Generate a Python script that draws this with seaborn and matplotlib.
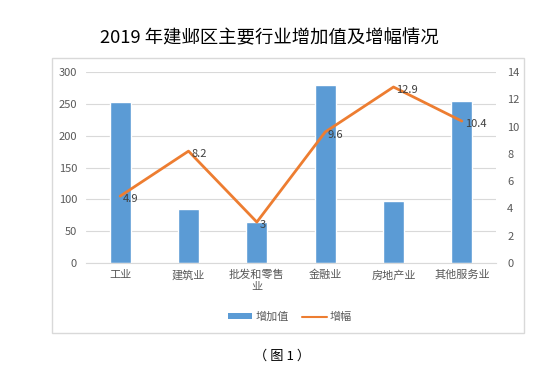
import matplotlib
matplotlib.use('Agg')
import matplotlib.pyplot as plt
from matplotlib.patches import Rectangle, Patch
from matplotlib.lines import Line2D
import seaborn as sns
import numpy as np
import pandas as pd

industries = ['工业', '建筑业', '批发和零售\n业', '金融业', '房地产业', '其他服务业']
added_value = [253, 85, 65, 280, 97, 255]
growth = [4.9, 8.2, 3, 9.6, 12.9, 10.4]
growth_labels = ['4.9', '8.2', '3', '9.6', '12.9', '10.4']

BLUE = '#5B9BD5'
ORANGE = '#ED7D31'
GRAY = '#595959'

sns.set_style('white')
plt.rcParams['font.family'] = ['Noto Sans CJK SC', 'DejaVu Sans']

df = pd.DataFrame({'行业': industries, '增加值': added_value, '增幅': growth})

fig = plt.figure(figsize=(5.51, 3.71), dpi=100)

# chart frame
fig.patches.append(Rectangle((52 / 551, 1 - 333 / 371), 472 / 551, 275 / 371,
                             transform=fig.transFigure, fill=False,
                             edgecolor='#D9D9D9', linewidth=1))

ax = fig.add_axes([86 / 551, 1 - 263 / 371, 410 / 551, 191 / 371])
sns.barplot(data=df, x='行业', y='增加值', color=BLUE, width=0.31,
            saturation=1, ax=ax)
ax.set_ylim(0, 300)
ax.set_yticks(range(0, 301, 50))
ax.set_xlim(-0.5, 5.5)
ax.grid(axis='y', color='#D9D9D9', linewidth=0.8)
ax.set_axisbelow(True)
for s in ax.spines.values():
    s.set_visible(False)
ax.spines['bottom'].set_visible(True)
ax.spines['bottom'].set_color('#D9D9D9')
ax.set_xlabel('')
ax.set_ylabel('')
ax.tick_params(axis='both', length=0, colors=GRAY, labelsize=8, pad=6.5)
ax.tick_params(axis='x', pad=5)

ax2 = ax.twinx()
sns.lineplot(x=np.arange(len(growth)), y=growth, color=ORANGE, linewidth=2, ax=ax2)
ax2.set_ylim(0, 14)
ax2.set_yticks(range(0, 15, 2))
for s in ax2.spines.values():
    s.set_visible(False)
ax2.tick_params(axis='y', length=0, colors=GRAY, labelsize=8, pad=8)
for i, (v, lab) in enumerate(zip(growth, growth_labels)):
    ax2.annotate(lab, (i, v), xytext=(2, -2), textcoords='offset points',
                 ha='left', va='center', fontsize=8, color='#404040')

fig.text(269 / 551, 1 - 38 / 371, '2019 年建邺区主要行业增加值及增幅情况',
         ha='center', va='center', fontsize=13.2, color='#000000')

handles = [Patch(facecolor=BLUE, edgecolor='none'),
           Line2D([0], [0], color=ORANGE, linewidth=1.5)]
fig.legend(handles, ['增加值', '增幅'], loc='center', ncol=2,
           bbox_to_anchor=(290 / 551, 1 - 317 / 371), frameon=False,
           fontsize=8, labelcolor=GRAY, handlelength=2.2, handleheight=0.5,
           columnspacing=1.2, handletextpad=0.3)

fig.text(282 / 551, 1 - 356 / 371, '（ 图 1 ）', ha='center', va='center',
         fontsize=9.5, color='#000000')

fig.savefig('out.png', dpi=100)
